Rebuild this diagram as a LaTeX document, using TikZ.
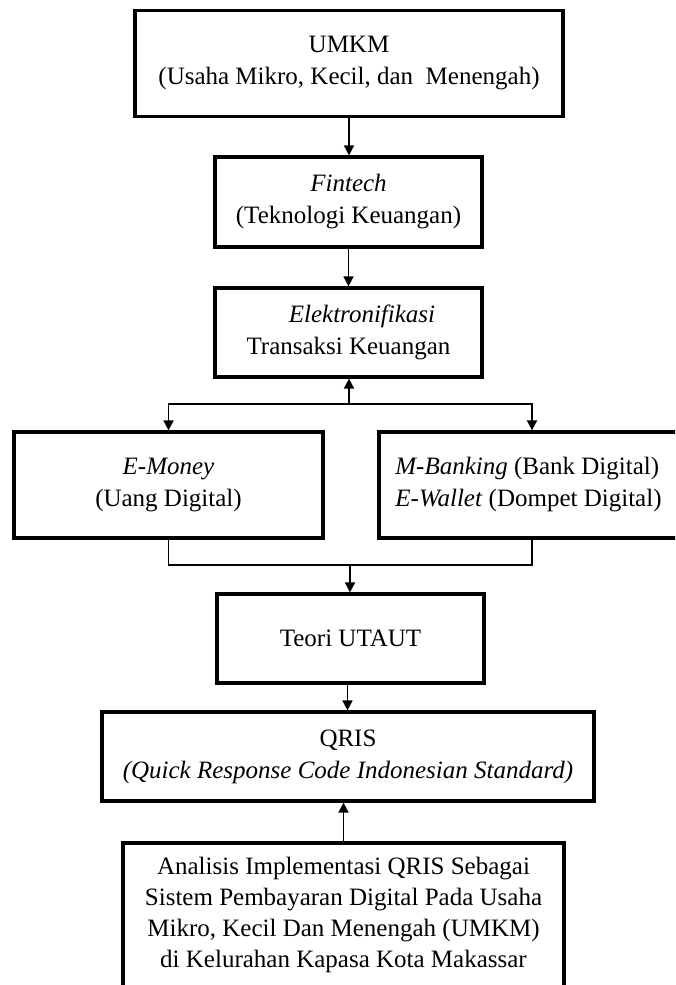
\documentclass[tikz,border=0pt]{standalone}
\usepackage{fontspec}
\setmainfont{Liberation Serif}
\usetikzlibrary{arrows.meta}
\begin{document}
\begin{tikzpicture}[x=0.5pt,y=-0.5pt,
  box/.style={draw,line width=1.6pt,inner sep=0pt,align=center,
    font={\fontsize{12.5}{16}\selectfont}},
  conn/.style={line width=0.85pt},
  arr/.style={conn,-{Triangle[width=5pt,length=5pt]}},
  thin/.style={line width=0.6pt}]
\useasboundingbox (0,0) rectangle (675,985);
\clip (0,0) rectangle (675,985);
\node[box,minimum width=214pt,minimum height=53pt] (umkm) at (349,63.5)
  {UMKM\\(Usaha Mikro, Kecil, dan\ \ Menengah)};
\node[box,minimum width=133.5pt,minimum height=45pt] (fintech) at (348.5,202)
  {\textit{Fintech}\\(Teknologi Keuangan)};
\node[box,minimum width=133.5pt,minimum height=44.5pt] (elek) at (348.5,332.5)
  {\hspace*{13.5pt}\textit{Elektronifikasi}\\Transaksi Keuangan};
\node[box,minimum width=154.5pt,minimum height=53pt] (emoney) at (168.5,485)
  {\textit{E-Money}\\(Uang Digital)};
\node[box,minimum width=150.5pt,minimum height=53pt] (mbank) at (529.5,485) {};
\node[inner sep=0pt,align=left,anchor=west,font={\fontsize{12.5}{16}\selectfont}] (mbanktxt) at (395,485)
  {\textit{M-Banking} (Bank Digital)\\\textit{E-Wallet} (Dompet Digital)};
\node[box,minimum width=133.5pt,minimum height=44.5pt] (teori) at (350.5,638.5)
  {Teori UTAUT};
\node[box,minimum width=246pt,minimum height=44.5pt] (qris) at (348,756.5)
  {QRIS\\\textit{(Quick Response Code Indonesian Standard)}};
\node[box,minimum width=220.5pt,minimum height=71.75pt,font={\fontsize{12.5}{15.5}\selectfont}] (anal) at (343.5,914.75)
  {Analisis Implementasi QRIS Sebagai\\Sistem Pembayaran Digital Pada Usaha\\Mikro, Kecil Dan Menengah (UMKM)\\di Kelurahan Kapasa Kota Makassar};
% connectors
\coordinate (br) at (349,404);
\coordinate (jn) at (350,565);
\draw[arr] (umkm.south) -- (umkm.south |- fintech.north);
\draw[arr] (fintech.south) -- (fintech.south |- elek.north);
\draw[arr] (br) -- (br |- elek.south);
\draw[arr] (br) -| (emoney.north);
\draw[arr] (br) -| ([xshift=1.25pt]mbank.north);
\draw[thin] (emoney.south) |- (jn);
\draw[thin] ([xshift=1.25pt]mbank.south) |- (jn);
\draw[arr] (jn) -- (jn |- teori.north);
\draw[arr] ([xshift=-1.5pt]teori.south) -- ([xshift=-1.5pt]teori.south |- qris.north);
\draw[arr] (anal.north) -- (anal.north |- qris.south);
\end{tikzpicture}
\end{document}
